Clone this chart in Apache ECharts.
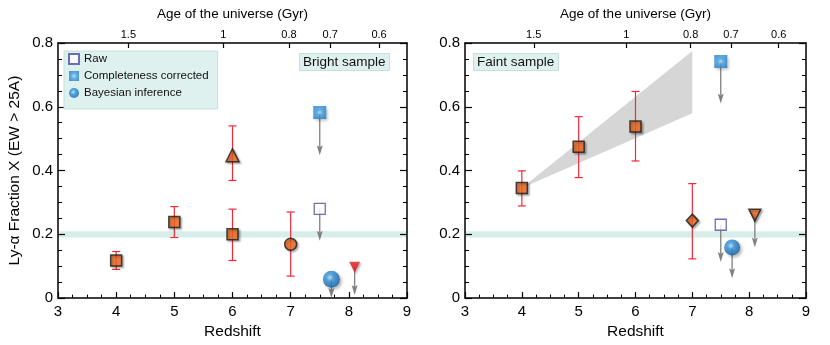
<!DOCTYPE html>
<html><head><meta charset="utf-8">
<script src="https://cdn.jsdelivr.net/npm/echarts@6/dist/echarts.min.js"></script>
<style>html,body{margin:0;padding:0;background:#fff}#c{width:830px;height:345px}</style>
</head><body><div id="c"></div>
<script>
// ---------- data ----------
const redshiftTicks = [3, 4, 5, 6, 7, 8, 9];
const agePositions = [4.21, 5.84, 6.97, 7.68, 8.52];   // redshift where the age tick sits
const ageLabels = ['1.5', '1', '0.8', '0.7', '0.6'];
const bandRange = [0.19, 0.21];

// Bright sample
const brightSquares = [[4, 0.118], [5, 0.239], [6, 0.200]];
const brightSquareErr = [[4, 0.090, 0.146], [5, 0.190, 0.287], [6, 0.118, 0.279]];
const brightTriangle = [[6, 0.448]];
const brightTriangleErr = [[6, 0.369, 0.540]];
const brightCircle = [[7, 0.169]];
const brightCircleErr = [[7, 0.069, 0.270]];
const brightRaw = [[7.5, 0.280]];
const brightCorrected = [[7.5, 0.582]];
const brightBayes = [[7.7, 0.059]];
const brightDownTri = [[8.1, 0.097]];
const brightLimits = [[7.5, 0.280, 0.180], [7.5, 0.582, 0.448], [7.7, 0.059, 0.000], [8.1, 0.097, 0.010]];

// Faint sample
const faintSquares = [[4, 0.345], [5, 0.475], [6, 0.538]];
const faintSquareErr = [[4, 0.289, 0.399], [5, 0.378, 0.569], [6, 0.430, 0.648]];
const faintDiamond = [[7, 0.243]];
const faintDiamondErr = [[7, 0.123, 0.359]];
const faintRaw = [[7.5, 0.230]];
const faintCorrected = [[7.5, 0.742]];
const faintBayes = [[7.7, 0.159]];
const faintDownTri = [[8.1, 0.260]];
const faintLimits = [[7.5, 0.230, 0.113], [7.5, 0.742, 0.610], [7.7, 0.159, 0.062], [8.1, 0.260, 0.159]];
const faintWedge = [[4, 0.345], [7, 0.775], [7, 0.580]];

// ---------- styles ----------
const FONT = "'Liberation Sans', Arial, Helvetica, sans-serif";
const ORANGE = '#f26a21';
const ERR = '#ee2a3a';
const ARROW = '#808080';
const TEAL = '#d6ede9';
const shadow = {shadowColor: 'rgba(0,0,0,0.35)', shadowBlur: 2, shadowOffsetX: 1.5, shadowOffsetY: 1.5};
const orangeStyle = Object.assign({color: ORANGE, borderColor: '#1a1a1a', borderWidth: 1.5}, shadow);
const blueSquareColor = new echarts.graphic.RadialGradient(0.5, 0.5, 0.7, [
  {offset: 0, color: '#c6e4f7'}, {offset: 0.3, color: '#4aa6e6'}, {offset: 1, color: '#1675c4'}]);
const blueBallColor = new echarts.graphic.RadialGradient(0.42, 0.4, 0.62, [
  {offset: 0, color: '#bfe2f8'}, {offset: 0.35, color: '#3597dd'}, {offset: 1, color: '#0f5fa8'}]);

function errRender(params, api) {
  const x = api.value(0), lo = api.value(1), hi = api.value(2);
  const p1 = api.coord([x, lo]), p2 = api.coord([x, hi]);
  const w = 4, st = {stroke: ERR, lineWidth: 1.2};
  return {type: 'group', children: [
    {type: 'line', shape: {x1: p1[0], y1: p1[1], x2: p2[0], y2: p2[1]}, style: st},
    {type: 'line', shape: {x1: p1[0] - w, y1: p1[1], x2: p1[0] + w, y2: p1[1]}, style: st},
    {type: 'line', shape: {x1: p2[0] - w, y1: p2[1], x2: p2[0] + w, y2: p2[1]}, style: st}
  ]};
}
function arrowRender(params, api) {
  const x = api.value(0), from = api.value(1), to = api.value(2);
  const p1 = api.coord([x, from]), p2 = api.coord([x, to]);
  return {type: 'group', children: [
    {type: 'line', shape: {x1: p1[0], y1: p1[1], x2: p2[0], y2: p2[1] - 8}, style: {stroke: ARROW, lineWidth: 1.3}},
    {type: 'polygon', shape: {points: [[p2[0], p2[1]], [p2[0] - 3, p2[1] - 10], [p2[0], p2[1] - 8], [p2[0] + 3, p2[1] - 10]]}, style: {fill: ARROW}}
  ]};
}
function bandRender(params, api) {
  const cs = params.coordSys;
  const a = api.coord([3, api.value(0)]), b = api.coord([3, api.value(1)]);
  return {type: 'rect', shape: {x: cs.x, y: b[1], width: cs.width, height: a[1] - b[1]}, style: {fill: TEAL}};
}
function wedgeRender(params, api) {
  return {type: 'polygon', shape: {points: faintWedge.map(p => api.coord(p))}, style: {fill: '#d6d6d6'}};
}

const axisLine = {show: true, onZero: false, lineStyle: {color: '#000', width: 1.5}};
function bottomX(g) {
  return {gridIndex: g, type: 'value', position: 'bottom', min: 3, max: 9, interval: 1,
    axisLine, axisTick: {inside: true, length: 6, lineStyle: {color: '#000', width: 1.2}},
    minorTick: {show: true, splitNumber: 4, length: 3.5, lineStyle: {color: '#000', width: 1}},
    axisLabel: {fontSize: 15, color: '#000', margin: 6, customValues: redshiftTicks},
    splitLine: {show: false},
    name: 'Redshift', nameLocation: 'middle', nameGap: 22, nameTextStyle: {fontSize: 15.5, color: '#000'}};
}
function topX(g) {
  return {gridIndex: g, type: 'value', position: 'top', min: 3, max: 9,
    axisLine, axisTick: {inside: true, length: 5, customValues: agePositions, lineStyle: {color: '#000', width: 1.2}},
    axisLabel: {fontSize: 11, color: '#000', margin: 3, customValues: agePositions,
      formatter: v => { const i = agePositions.findIndex(p => Math.abs(p - v) < 1e-6); return i >= 0 ? ageLabels[i] : ''; }},
    splitLine: {show: false},
    name: 'Age of the universe (Gyr)', nameLocation: 'middle', nameGap: 22, nameTextStyle: {fontSize: 13.5, color: '#000'}};
}
function leftY(g, withName) {
  const o = {gridIndex: g, type: 'value', position: 'left', min: 0, max: 0.8, interval: 0.2,
    axisLine, axisTick: {inside: true, length: 7, lineStyle: {color: '#000', width: 1.2}},
    minorTick: {show: true, splitNumber: 4, length: 4, lineStyle: {color: '#000', width: 1}},
    axisLabel: {fontSize: 15, color: '#000', margin: 5},
    splitLine: {show: false}};
  if (withName) Object.assign(o, {name: 'Ly-\u03b1 Fraction X (EW > 25A)', nameLocation: 'middle', nameGap: 35,
    nameTextStyle: {fontSize: 15.5, color: '#000'}});
  return o;
}
function rightY(g) {
  return {gridIndex: g, type: 'value', position: 'right', min: 0, max: 0.8, interval: 0.2,
    axisLine, axisTick: {inside: true, length: 7, lineStyle: {color: '#000', width: 1.2}},
    minorTick: {show: true, splitNumber: 4, length: 4, lineStyle: {color: '#000', width: 1}},
    axisLabel: {show: false}, splitLine: {show: false}};
}

function panelSeries(xi, yi, d) {
  const base = {xAxisIndex: xi, yAxisIndex: yi};
  const s = [];
  s.push(Object.assign({type: 'custom', renderItem: bandRender, data: [bandRange], z: 0, silent: true, clip: true}, base));
  if (d.wedge) s.push(Object.assign({type: 'custom', renderItem: wedgeRender, data: [[4, 0.345]], z: 1, silent: true}, base));
  s.push(Object.assign({type: 'custom', renderItem: arrowRender, data: d.limits, z: 2, clip: true, encode: {x: 0, y: [1, 2]}}, base));
  d.errs.forEach(e => s.push(Object.assign({type: 'custom', renderItem: errRender, data: e, z: 3, encode: {x: 0, y: [1, 2]}}, base)));
  d.markers.forEach(m => s.push(Object.assign({type: 'scatter', z: 5, clip: false}, m, base)));
  return s;
}

const blueShadow = {shadowColor: 'rgba(0,0,0,0.35)', shadowBlur: 3, shadowOffsetX: 2, shadowOffsetY: 2};
const bright = {
  limits: brightLimits,
  errs: [brightSquareErr, brightTriangleErr, brightCircleErr],
  markers: [
    {name: 'sq', data: brightSquares, symbol: 'rect', symbolSize: 11, itemStyle: orangeStyle},
    {name: 'tri', data: brightTriangle, symbol: 'triangle', symbolSize: 13, itemStyle: orangeStyle},
    {name: 'circ', data: brightCircle, symbol: 'circle', symbolSize: 12, itemStyle: orangeStyle},
    {name: 'Raw', data: brightRaw, symbol: 'rect', symbolSize: 11, itemStyle: {color: '#fff', borderColor: '#4b4ba8', borderWidth: 1.3}},
    {name: 'Completeness corrected', data: brightCorrected, symbol: 'rect', symbolSize: 13, itemStyle: Object.assign({color: blueSquareColor}, blueShadow)},
    {name: 'Bayesian inference', data: brightBayes, symbol: 'circle', symbolSize: 17, itemStyle: Object.assign({color: blueBallColor}, blueShadow)},
    {name: 'dtri', data: brightDownTri, symbol: 'triangle', symbolRotate: 180, symbolSize: 11, itemStyle: Object.assign({color: '#e41e26'}, shadow)}
  ]
};
const faint = {
  wedge: true,
  limits: faintLimits,
  errs: [faintSquareErr, faintDiamondErr],
  markers: [
    {name: 'fsq', data: faintSquares, symbol: 'rect', symbolSize: 11, itemStyle: orangeStyle},
    {name: 'fdia', data: faintDiamond, symbol: 'diamond', symbolSize: [12, 13], itemStyle: orangeStyle},
    {name: 'Raw', data: faintRaw, symbol: 'rect', symbolSize: 11, itemStyle: {color: '#fff', borderColor: '#4b4ba8', borderWidth: 1.3}},
    {name: 'Completeness corrected', data: faintCorrected, symbol: 'rect', symbolSize: 13, itemStyle: Object.assign({color: blueSquareColor}, blueShadow)},
    {name: 'Bayesian inference', data: faintBayes, symbol: 'circle', symbolSize: 16, itemStyle: Object.assign({color: blueBallColor}, blueShadow)},
    {name: 'fdtri', data: faintDownTri, symbol: 'triangle', symbolRotate: 180, symbolSize: 12, itemStyle: orangeStyle}
  ]
};

const chart = echarts.init(document.getElementById('c'), null, {renderer: 'canvas'});
chart.setOption({
  animation: false,
  backgroundColor: '#fff',
  textStyle: {fontFamily: FONT},
  grid: [
    {left: 58, top: 43, width: 349, height: 260},
    {left: 465, top: 43, width: 341, height: 260}
  ],
  xAxis: [bottomX(0), topX(0), bottomX(1), topX(1)],
  yAxis: [leftY(0, true), rightY(0), leftY(1, false), rightY(1)],
  legend: {
    left: 64, top: 51, orient: 'vertical',
    data: [{name: 'Raw', icon: 'rect'}, {name: 'Completeness corrected', icon: 'rect'}, {name: 'Bayesian inference', icon: 'circle'}],
    backgroundColor: '#dff1ee', borderColor: '#c4e0dc', borderWidth: 1,
    padding: [2, 9, 10, 4], itemWidth: 10, itemHeight: 10, itemGap: 5,
    textStyle: {fontSize: 11.5, color: '#111', fontFamily: FONT},
    selectedMode: false
  },
  title: [
    {text: 'Bright sample', left: 299, top: 53, padding: [2, 4, 2, 4], backgroundColor: '#dff1ee', borderColor: '#c4e0dc', borderWidth: 1,
      textStyle: {fontSize: 13.5, fontWeight: 'normal', color: '#111', fontFamily: FONT}},
    {text: 'Faint sample', left: 473, top: 53, padding: [2, 4, 2, 4], backgroundColor: '#dff1ee', borderColor: '#c4e0dc', borderWidth: 1,
      textStyle: {fontSize: 13.5, fontWeight: 'normal', color: '#111', fontFamily: FONT}}
  ],
  series: panelSeries(0, 0, bright).concat(panelSeries(2, 2, faint))
});
</script>
</body></html>
